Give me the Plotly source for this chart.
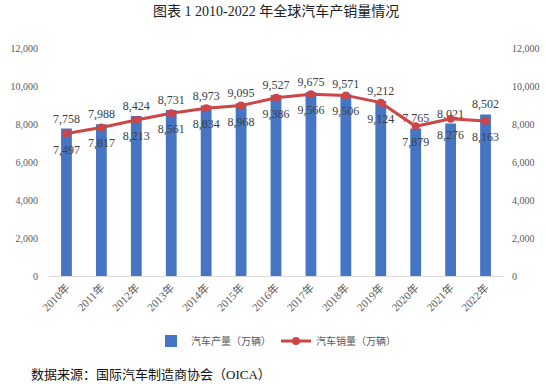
import plotly.graph_objects as go

years = ["2010年", "2011年", "2012年", "2013年", "2014年", "2015年", "2016年",
         "2017年", "2018年", "2019年", "2020年", "2021年", "2022年"]
production = [7758, 7988, 8424, 8731, 8973, 9095, 9527, 9675, 9571, 9212, 7765, 8021, 8502]
sales = [7497, 7817, 8213, 8561, 8834, 8968, 9386, 9566, 9506, 9124, 7879, 8276, 8163]
y_ticks = [0, 2000, 4000, 6000, 8000, 10000, 12000]

title_text = "图表 1 2010-2022 年全球汽车产销量情况"
source_text = "数据来源：国际汽车制造商协会（OICA）"

SERIF = "Liberation Serif, Times New Roman, Noto Sans CJK SC, serif"
BLUE = "#4676C3"
RED = "#CD4545"

W, H = 546, 384
L, R, T, B = 48.5, 42.5, 48, 108

fig = go.Figure()
fig.add_trace(go.Bar(
    x=years, y=production, name="汽车产量（万辆）",
    marker=dict(color=BLUE, line=dict(width=0)),
    text=[f"{v:,}" for v in production], textposition="outside",
    constraintext="none",
    textfont=dict(family=SERIF, size=12, color="#404040"),
    cliponaxis=False, yaxis="y",
))
fig.add_trace(go.Scatter(
    x=years, y=sales, name="汽车销量（万辆）",
    mode="lines+markers",
    line=dict(color=RED, width=3),
    marker=dict(color=RED, size=8),
    cliponaxis=False, yaxis="y2",
))
# data labels for the sales line, set a little further below the points
fig.add_trace(go.Scatter(
    x=years, y=sales, mode="text+markers", showlegend=False, hoverinfo="skip",
    marker=dict(color="rgba(0,0,0,0)", size=16),
    text=[f"{v:,}" for v in sales], textposition="bottom center",
    textfont=dict(family=SERIF, size=12, color="#404040"),
    cliponaxis=False, yaxis="y2",
))

axis_common = dict(
    range=[0, 12000], tickvals=y_ticks, tickformat=",",
    showgrid=False, zeroline=False, showline=False, automargin=False,
    tickfont=dict(family=SERIF, size=10, color="#595959"),
    fixedrange=True,
)

plot_h = H - T - B

fig.update_layout(
    width=W, height=H,
    margin=dict(l=L, r=R, t=T, b=B, pad=0, autoexpand=False),
    paper_bgcolor="white", plot_bgcolor="white",
    bargap=0.69,
    showlegend=True,
    legend=dict(
        orientation="h", x=0.5, xanchor="center",
        y=(0 - 65) / plot_h, yanchor="middle",
        font=dict(family="Noto Sans CJK SC", size=10, color="#595959"),
        itemwidth=30, traceorder="normal",
    ),
    xaxis=dict(
        type="category", range=[-0.5, len(years) - 0.5], tickangle=-45,
        showgrid=False, zeroline=False, fixedrange=True,
        showline=True, linecolor="#D9D9D9", linewidth=1, ticks="", automargin=False,
        tickfont=dict(family=SERIF, size=11, color="#595959"),
    ),
    yaxis=dict(**axis_common, side="left", ticks="", ticklabelstandoff=10),
    yaxis2=dict(**axis_common, side="right", overlaying="y", ticks="", ticklabelstandoff=8),
    annotations=[
        dict(text=title_text, xref="paper", yref="paper", x=(276 - L) / (W - L - R),
             y=1 + (T - 11) / plot_h, xanchor="center", yanchor="middle", showarrow=False,
             font=dict(family=SERIF, size=14, color="#222222")),
        dict(text=source_text, xref="paper", yref="paper", x=(28 - L) / (W - L - R),
             y=-(374 - T - plot_h) / plot_h, xanchor="left", yanchor="middle", showarrow=False,
             font=dict(family=SERIF, size=13, color="#111111")),
    ],
)

fig.write_html("out.html", config={"displayModeBar": False},
               post_script="document.body.style.margin='0';document.body.style.padding='0';")
